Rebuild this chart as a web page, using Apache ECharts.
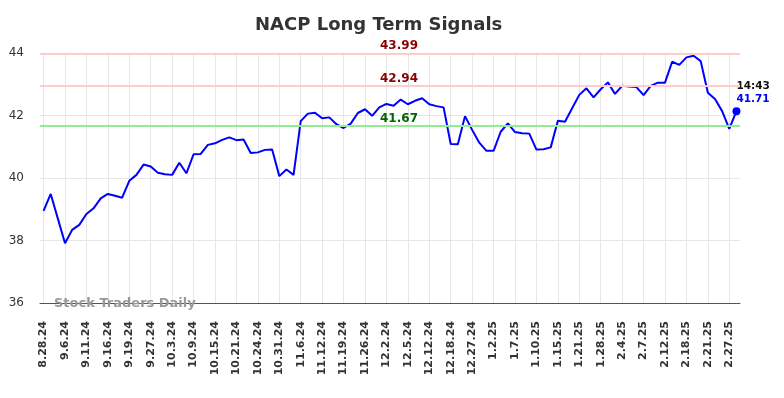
<!DOCTYPE html>
<html>
<head>
<meta charset="utf-8">
<script src="https://cdn.jsdelivr.net/npm/echarts@6/dist/echarts.min.js"></script>
<style>
  html, body { margin: 0; padding: 0; background: #fff; }
  #chart { width: 784px; height: 398px; }
</style>
</head>
<body>
<div id="chart"></div>
<script>
// tick labels shown under the axis, one every 3 points
const tickLabels = ['8.28.24', '9.6.24', '9.11.24', '9.16.24', '9.19.24', '9.27.24', '10.3.24', '10.9.24',
  '10.15.24', '10.21.24', '10.24.24', '10.31.24', '11.6.24', '11.12.24', '11.19.24', '11.26.24', '12.2.24',
  '12.5.24', '12.12.24', '12.18.24', '12.27.24', '1.2.25', '1.7.25', '1.10.25', '1.15.25', '1.21.25',
  '1.28.25', '2.4.25', '2.7.25', '2.12.25', '2.18.25', '2.21.25', '2.27.25'];

const prices = [
  38.95, 39.49, 38.70, 37.91, 38.34, 38.50, 38.85, 39.03, 39.35, 39.49,
  39.43, 39.37, 39.91, 40.10, 40.43, 40.37, 40.17, 40.12, 40.10, 40.49,
  40.15, 40.76, 40.77, 41.06, 41.11, 41.22, 41.30, 41.21, 41.23, 40.80,
  40.82, 40.90, 40.91, 40.06, 40.27, 40.10, 41.82, 42.06, 42.09, 41.91,
  41.94, 41.72, 41.60, 41.74, 42.08, 42.20, 41.99, 42.26, 42.37, 42.31,
  42.51, 42.36, 42.47, 42.55, 42.36, 42.30, 42.26, 41.09, 41.08, 41.98,
  41.54, 41.13, 40.87, 40.87, 41.48, 41.75, 41.47, 41.43, 41.42, 40.91,
  40.92, 40.98, 41.83, 41.80, 42.23, 42.66, 42.87, 42.58, 42.84, 43.06,
  42.69, 42.95, 42.93, 42.91, 42.65, 42.95, 43.05, 43.05, 43.72, 43.62,
  43.86, 43.91, 43.74, 42.73, 42.53, 42.14, 41.57, 42.14
];

const resistLevels = [43.99, 42.94];
const supportLevels = [41.67];
const lastTime = '14:43';
const lastLabel = '41.71';

// one category per point, named only where a tick label is shown
const categories = prices.map((v, i) => (i % 3 === 0 && tickLabels[i / 3]) ? tickLabels[i / 3] : '');

const FONT = 'DejaVu Sans';
const chart = echarts.init(document.getElementById('chart'), null, { renderer: 'canvas' });

const lastIdx = prices.length - 1;
const seriesData = prices.map((v, i) => {
  if (i !== lastIdx) return v;
  return {
    value: v,
    label: {
      show: true,
      position: 'top',
      align: 'left',
      distance: 1,
      formatter: '{t|' + lastTime + '}\n{v|' + lastLabel + '}',
      rich: {
        t: { fontFamily: FONT, fontWeight: 'bold', fontSize: 10.5, color: '#111', lineHeight: 13 },
        v: { fontFamily: FONT, fontWeight: 'bold', fontSize: 10.5, color: '#0000ff', lineHeight: 13 }
      }
    }
  };
});

const levelLine = (value, lineColor, textColor) => ({
  yAxis: value,
  lineStyle: { color: lineColor, width: 2, type: 'solid' },
  label: {
    show: true,
    position: 'middle',
    distance: 1,
    padding: [0, 0, 0, 18],
    formatter: value.toFixed(2),
    color: textColor,
    fontFamily: FONT,
    fontWeight: 'bold',
    fontSize: 12
  }
});

let option = {
  animation: false,
  backgroundColor: '#fff',
  title: {
    text: 'NACP Long Term Signals',
    left: 250,
    top: 11,
    textStyle: { fontFamily: FONT, fontWeight: 'bold', fontSize: 18, color: '#333' }
  },
  grid: [
    { left: 40, right: 44, top: 53, bottom: 95 },
    { left: 43.57, right: 47.57, top: 53, bottom: 95 }
  ],
  xAxis: [
    {
      type: 'category',
      gridIndex: 0,
      data: categories,
      boundaryGap: true,
      axisLine: { show: true, lineStyle: { color: '#555', width: 1 } },
      axisTick: { show: false },
      axisLabel: { show: false },
      splitLine: { show: false }
    },
    {
      type: 'category',
      gridIndex: 1,
      data: categories,
      boundaryGap: false,
      axisLine: { show: false },
      axisTick: { show: false },
      axisLabel: {
        interval: 2,
        rotate: 90,
        margin: 18,
        fontFamily: FONT,
        fontWeight: 'bold',
        fontSize: 11,
        color: '#333'
      },
      splitLine: { show: true, interval: 2, lineStyle: { color: '#e6e6e6', width: 1 } }
    }
  ],
  yAxis: [
    {
      type: 'value',
      gridIndex: 0,
      min: 36,
      max: 44,
      interval: 2,
      axisLine: { show: false },
      axisTick: { show: false },
      axisLabel: { margin: 16, fontFamily: FONT, fontSize: 12, color: '#333' },
      splitLine: { show: true, lineStyle: { color: '#e6e6e6', width: 1 } }
    },
    { type: 'value', gridIndex: 1, min: 0, max: 1, show: false }
  ],
  graphic: [{
    type: 'text',
    left: 54,
    top: 297,
    z: 100,
    style: { text: 'Stock Traders Daily', fontFamily: FONT, fontWeight: 'bold', fontSize: 13, fill: '#999' }
  }],
  series: [{
    type: 'line',
    xAxisIndex: 0,
    yAxisIndex: 0,
    data: seriesData,
    showSymbol: true,
    symbol: 'circle',
    symbolSize: (val, params) => params.dataIndex === lastIdx ? 8 : 0,
    lineStyle: { color: '#0000ff', width: 2 },
    itemStyle: { color: '#0000ff' },
    markLine: {
      silent: true,
      symbol: 'none',
      data: resistLevels.map(v => levelLine(v, '#ffcccc', '#8b0000'))
        .concat(supportLevels.map(v => levelLine(v, '#90ee90', '#006400')))
    }
  }]
};

chart.setOption(option);
</script>
</body>
</html>
